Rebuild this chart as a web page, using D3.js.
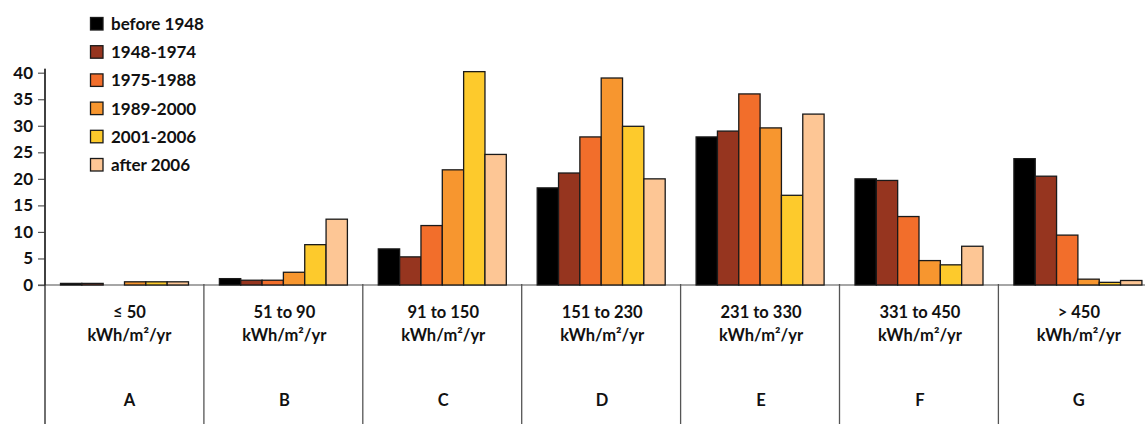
<!DOCTYPE html>
<html><head><meta charset="utf-8">
<script src="https://cdn.jsdelivr.net/npm/d3@7"></script>
<style>
html,body{margin:0;padding:0;background:#fff;}
text{font-family:Lato,"Noto Sans",sans-serif;font-weight:700;fill:#111;}
</style></head>
<body><svg id="chart" width="1145" height="424"></svg>
<script>
const groups = ["A","B","C","D","E","F","G"];
const rangeLabels = ["\u2264 50","51 to 90","91 to 150","151 to 230","231 to 330","331 to 450","> 450"];
const unitLabel = "kWh/m\u00B2/yr";
const seriesNames = ["before 1948","1948-1974","1975-1988","1989-2000","2001-2006","after 2006"];
const seriesColors = ["#000000","#96351f","#f26e2b","#f7962f","#fdca2c","#fdc695"];
const before1948 = [0.3, 1.2, 6.8, 18.3, 27.9, 20.0, 23.8];
const y1948_1974 = [0.3, 0.9, 5.3, 21.1, 29.0, 19.7, 20.5];
const y1975_1988 = [0.0, 0.9, 11.2, 27.9, 36.0, 12.9, 9.4];
const y1989_2000 = [0.6, 2.4, 21.7, 39.0, 29.6, 4.6, 1.1];
const y2001_2006 = [0.6, 7.6, 40.2, 29.9, 16.9, 3.8, 0.5];
const after2006 = [0.6, 12.4, 24.6, 20.0, 32.2, 7.3, 0.85];
const yTicks = [0,5,10,15,20,25,30,35,40];

const seriesValues = [before1948, y1948_1974, y1975_1988, y1989_2000, y2001_2006, after2006];

const svg = d3.select("#chart");
const x0 = 45, groupW = 158.9, baseY = 285, bottom = 424;
const x = d3.scaleBand().domain(groups).range([x0, x0 + groupW*groups.length]).padding(0);
const xs = d3.scaleBand().domain(seriesNames).range([15.5, 143.5]).padding(0);
const y = d3.scaleLinear().domain([0,40]).range([baseY, 72.7]);

// baseline
svg.append("line").attr("x1", 38).attr("x2", 1145).attr("y1", baseY).attr("y2", baseY)
  .attr("stroke", "#888").attr("stroke-width", 1.5);

// bars
const g = svg.append("g");
groups.forEach((grp, gi) => {
  seriesNames.forEach((s, si) => {
    const v = seriesValues[si][gi];
    if (v <= 0) return;
    g.append("rect")
      .attr("x", x(grp) + xs(s))
      .attr("y", y(v))
      .attr("width", xs.bandwidth())
      .attr("height", baseY - y(v))
      .attr("fill", seriesColors[si])
      .attr("stroke", "#1a1a1a").attr("stroke-width", 1.3);
  });
});

// y axis
const yAxis = d3.axisLeft(y).tickValues(yTicks).tickSize(7).tickPadding(5);
const ya = svg.append("g").attr("transform", `translate(${x0},0)`).call(yAxis);
ya.selectAll(".tick line").attr("stroke", "#555").attr("stroke-width", 1.2);
ya.selectAll(".tick text").attr("font-family", "Lato, sans-serif").attr("font-weight", 700)
  .attr("font-size", 17).attr("fill", "#111");
ya.select(".domain").attr("stroke", "#222").attr("stroke-width", 1.2).attr("d", `M0,${y(40)-4}V${baseY}`);

// separators
groups.forEach((grp, gi) => {
  const xx = x(grp);
  svg.append("line").attr("x1", xx).attr("x2", xx).attr("y1", gi === 0 ? y(40)-4 : baseY - 1)
    .attr("y2", bottom).attr("stroke", gi === 0 ? "#222" : "#555").attr("stroke-width", 1.3);
});

// group labels
groups.forEach((grp, gi) => {
  const cx = x(grp) + x.bandwidth()/2 + (gi === 0 ? 5 : 1);
  svg.append("text").attr("x", cx).attr("y", 318).attr("text-anchor", "middle")
    .attr("font-size", 16.5).text(rangeLabels[gi]);
  svg.append("text").attr("x", cx).attr("y", 341).attr("text-anchor", "middle")
    .attr("font-size", 16.5).text(unitLabel);
  svg.append("text").attr("x", cx).attr("y", 406).attr("text-anchor", "middle")
    .attr("font-size", 16.5).text(grp);
});

// legend
const lg = svg.append("g");
seriesNames.forEach((s, i) => {
  const yy = 17.5 + i*28.2;
  lg.append("rect").attr("x", 90.5).attr("y", yy).attr("width", 12.5).attr("height", 12.5)
    .attr("fill", seriesColors[i]).attr("stroke", "#1a1a1a").attr("stroke-width", 1.3);
  lg.append("text").attr("x", 111).attr("y", yy + 12.5).attr("font-size", 17).text(s);
});
</script>
</body></html>
